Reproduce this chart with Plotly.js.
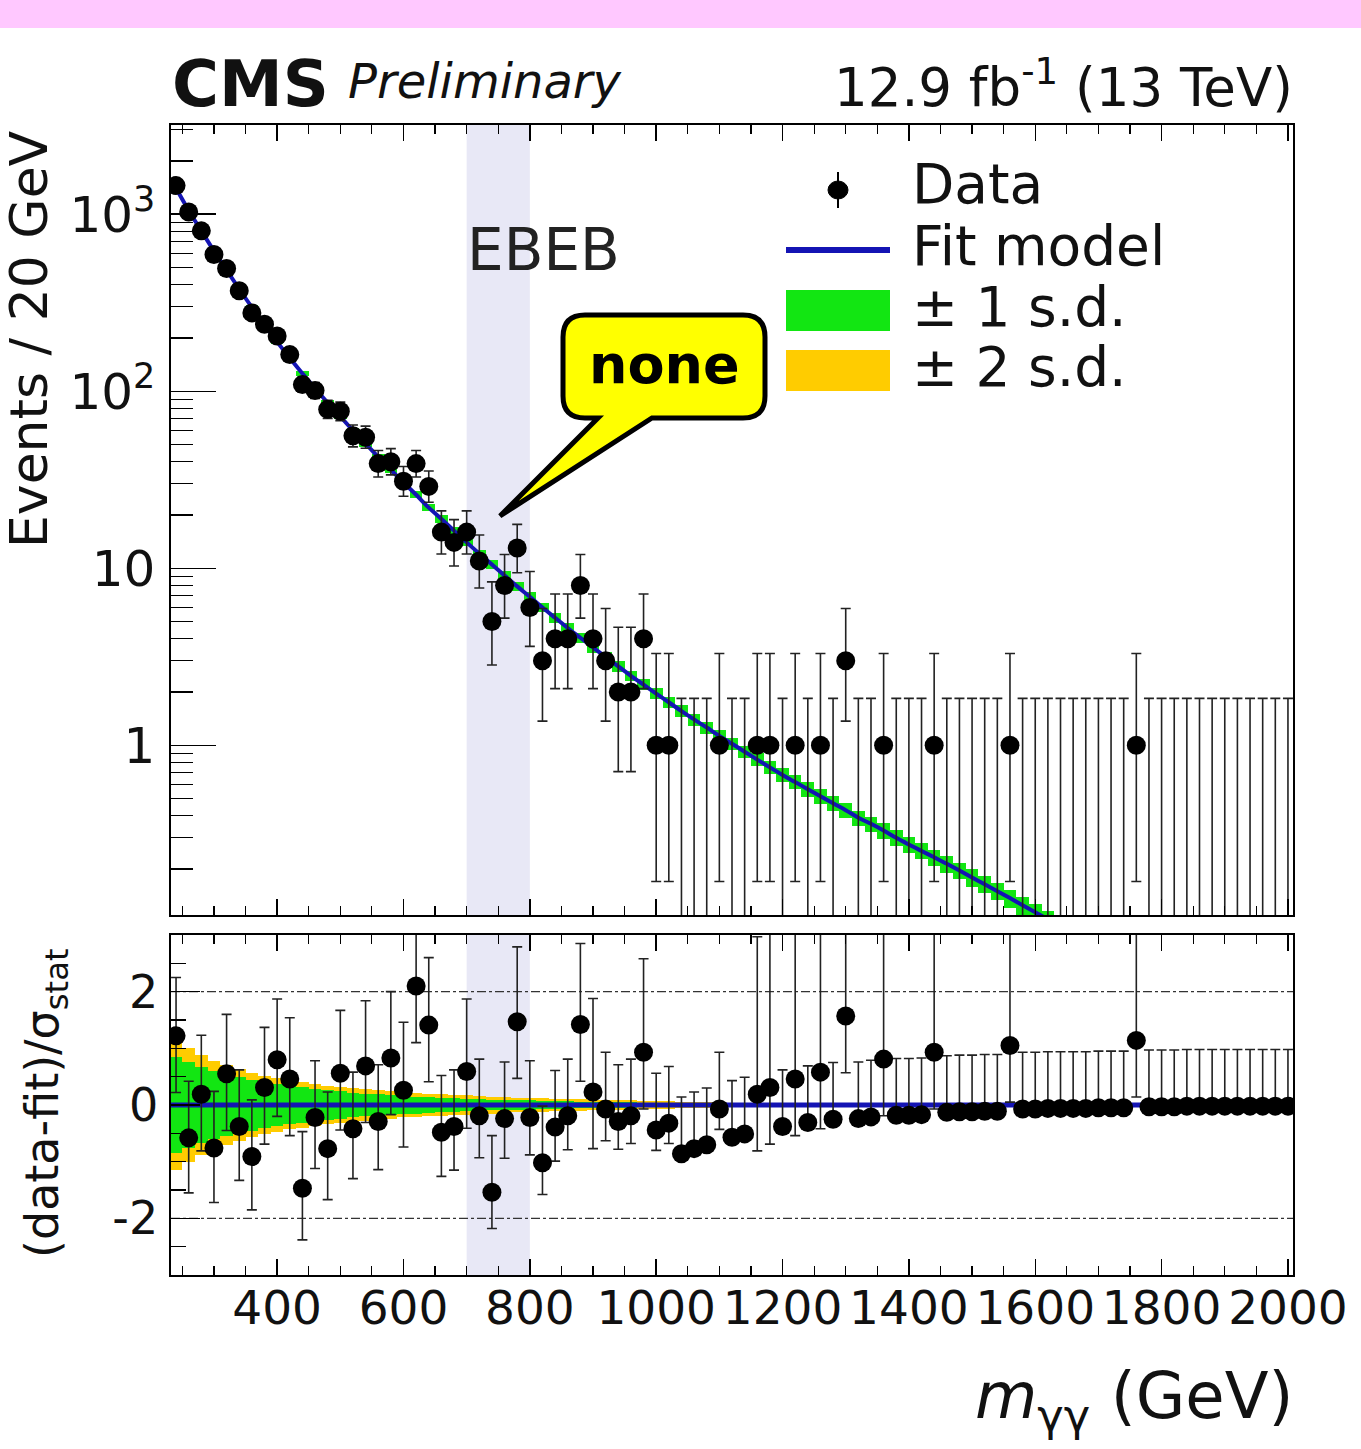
<!DOCTYPE html>
<html>
<head>
<meta charset="utf-8">
<script src="https://cdn.plot.ly/plotly-3.0.1.min.js"></script>
<style>body{margin:0;background:#fff;}#chart{width:1361px;height:1449px;}</style>
</head>
<body>
<div id="chart"></div>
<script>
// ---------- data ----------
const binCenters = [240,260,280,300,320,340,360,380,400,420,440,460,480,500,520,540,560,580,600,620,
  640,660,680,700,720,740,760,780,800,820,840,860,880,900,920,940,960,980,1000,1020,
  1040,1060,1080,1100,1120,1140,1160,1180,1200,1220,1240,1260,1280,1300,1320,1340,1360,1380,1400,1420,
  1440,1460,1480,1500,1520,1540,1560,1580,1600,1620,1640,1660,1680,1700,1720,1740,1760,1780,1800,1820,
  1840,1860,1880,1900,1920,1940,1960,1980,2000];
const binWidth = 20;

const events = [1450,1030,805,592,493,369,277,239,205,161,
  109,101,79,77,56,55,39,40,31,39,
  29,16,14,16,11,5,8,13,6,3,
  4,4,8,4,3,2,2,4,1,1,
  0,0,0,1,0,0,1,1,0,1,
  0,1,0,3,0,0,1,0,0,0,
  1,0,0,0,0,0,1,0,0,0,
  0,0,0,0,0,0,1,0,0,0,
  0,0,0,0,0,0,0,0,0];

const errLow = [38.1,32.1,28.4,24.3,22.2,19.2,16.6,15.5,14.3,12.7,
  10.4,10.0,8.9,8.8,7.5,7.4,6.2,6.3,5.5,6.2,
  5.4,3.96,3.70,3.96,3.27,2.16,2.77,3.56,2.38,1.63,
  1.91,1.91,2.77,1.91,1.63,1.29,1.29,1.91,0.83,0.83,
  0,0,0,0.83,0,0,0.83,0.83,0,0.83,
  0,0.83,0,1.63,0,0,0.83,0,0,0,
  0.83,0,0,0,0,0,0.83,0,0,0,
  0,0,0,0,0,0,0.83,0,0,0,
  0,0,0,0,0,0,0,0,0];
const errHigh = [39.1,33.1,29.4,25.3,23.2,20.2,17.7,16.5,15.3,13.7,
  11.5,11.1,9.9,9.8,8.5,8.5,7.3,7.4,6.6,7.3,
  6.4,5.08,4.83,5.08,4.41,3.38,3.95,4.70,3.58,2.92,
  3.16,3.16,3.95,3.16,2.92,2.64,2.64,3.16,2.30,2.30,
  1.84,1.84,1.84,2.30,1.84,1.84,2.30,2.30,1.84,2.30,
  1.84,2.30,1.84,2.92,1.84,1.84,2.30,1.84,1.84,1.84,
  2.30,1.84,1.84,1.84,1.84,1.84,2.30,1.84,1.84,1.84,
  1.84,1.84,1.84,1.84,1.84,1.84,2.30,1.84,1.84,1.84,
  1.84,1.84,1.84,1.84,1.84,1.84,1.84,1.84,1.84];

// fit model value at each bin centre (down to where it leaves the axis)
const fitModel = [1400,1050,805,620,483,378,298,237,190,154,
  126,104,86,72,60,50.5,42.5,36,30.5,26,
  22,19,16.3,14,12.1,10.5,9.1,7.9,6.9,6.0,
  5.25,4.6,4.05,3.57,3.15,2.79,2.47,2.2,1.96,1.75,
  1.56,1.40,1.26,1.13,1.02,0.92,0.83,0.75,0.68,0.62,
  0.565,0.515,0.47,0.43,0.39,0.36,0.33,0.30,0.275,0.253,
  0.233,0.214,0.196,0.179,0.164,0.150,0.137,0.125,0.114,0.104,0.095];

// relative +-1 s.d. fit uncertainty (top panel band)
const fitRelUnc = [0.024,0.024,0.025,0.025,0.026,0.027,0.028,0.029,0.03,0.031,
  0.032,0.033,0.035,0.036,0.037,0.039,0.04,0.042,0.043,0.045,
  0.046,0.048,0.049,0.051,0.052,0.054,0.055,0.057,0.058,0.06,
  0.061,0.063,0.064,0.066,0.067,0.069,0.07,0.072,0.073,0.075,
  0.076,0.078,0.079,0.081,0.082,0.084,0.085,0.087,0.088,0.09,
  0.091,0.093,0.094,0.096,0.097,0.099,0.1,0.102,0.103,0.105,
  0.106,0.108,0.109,0.111,0.112,0.114,0.115,0.117,0.118,0.12,0.121];

// pull panel
const pulls = [1.22,-0.58,0.19,-0.76,0.55,-0.38,-0.91,0.31,0.80,0.46,
  -1.47,-0.22,-0.77,0.56,-0.42,0.69,-0.29,0.83,0.26,2.10,
  1.41,-0.48,-0.38,0.59,-0.19,-1.54,-0.24,1.47,-0.22,-1.02,
  -0.39,-0.19,1.42,0.23,-0.07,-0.29,-0.19,0.93,-0.44,-0.32,
  -0.86,-0.77,-0.70,-0.07,-0.57,-0.51,0.19,0.31,-0.38,0.46,
  -0.31,0.58,-0.25,1.57,-0.24,-0.21,0.81,-0.18,-0.18,-0.17,
  0.93,-0.13,-0.12,-0.12,-0.11,-0.11,1.05,-0.07,-0.07,-0.06,
  -0.06,-0.06,-0.06,-0.05,-0.05,-0.05,1.14,-0.03,-0.03,-0.03,
  -0.02,-0.02,-0.02,-0.02,-0.02,-0.02,-0.02,-0.02,-0.02];
const pullErrHigh = [1.03,1,1.04,1,1.05,1,1,1.06,1.07,1.08,
  1,1,1,1.11,1,1.15,1,1.17,1.20,1.18,
  1.19,1,1,1.28,1,1,1,1.32,1,1,
  1,1,1.43,1.65,1,1,1,1.65,1,1,
  1,1,1,1,1,1,2.78,2.78,1,2.78,
  1,2.78,1,1.79,1,1,2.78,1,1,1,
  2.78,1,1,1,1,1,2.78,1,1,1,
  1,1,1,1,1,1,2.78,1,1,1,
  1,1,1,1,1,1,1,1,1];
const pullErrLow = [1,0.97,1,0.96,1,0.95,0.94,1,1,1,
  0.91,0.90,0.90,1,0.88,1,0.85,1,1,1,
  1,0.78,0.77,1,0.74,0.64,0.70,1,0.66,0.56,
  0.60,0.60,1,1,0.56,0.49,0.49,1,0.36,0.36,
  0,0,0,0.36,0,0,1,1,0,1,
  0,1,0,1,0,0,1,0,0,0,
  1,0,0,0,0,0,1,0,0,0,
  0,0,0,0,0,0,1,0,0,0,
  0,0,0,0,0,0,0,0,0];

// fit-uncertainty bands in the pull panel (half widths, pull units)
const pullBand1 = [0.85,0.76,0.67,0.60,0.54,0.49,0.45,0.41,0.37,0.34,
  0.31,0.28,0.26,0.24,0.22,0.20,0.19,0.17,0.16,0.15,
  0.14,0.13,0.12,0.11,0.10,0.095,0.09,0.085,0.08,0.075,
  0.07,0.065,0.06,0.055,0.05,0.05,0.045,0.04,0.04,0.035,
  0.03,0.03,0.03,0.025,0.025];
const pullBand2 = [1.15,1.0,0.88,0.78,0.70,0.63,0.57,0.52,0.47,0.43,
  0.40,0.37,0.34,0.32,0.30,0.28,0.26,0.24,0.22,0.21,
  0.20,0.19,0.18,0.17,0.16,0.15,0.14,0.13,0.12,0.115,
  0.11,0.105,0.10,0.095,0.09,0.085,0.08,0.075,0.07,0.065,
  0.06,0.055,0.05,0.045,0.04];

const yTickVals = [1,10,100,1000];
const yTickText = ['1','10','10<sup>2</sup>','10<sup>3</sup>'];
const pullTickVals = [-2,0,2];
const pullTickText = ['-2','0','2'];

// ---------- derived trace arrays ----------
const nzX=[],nzY=[],nzLo=[],nzHi=[],zX=[],zY=[],zLo=[];
events.forEach((n,i)=>{
  if(n>0){nzX.push(binCenters[i]);nzY.push(n);nzLo.push(errLow[i]);nzHi.push(errHigh[i]);}
  else{zX.push(binCenters[i]);zY.push(n+errHigh[i]);zLo.push(n+errHigh[i]);}
});
const fitX = binCenters.slice(0,fitModel.length);
const bandBase = fitModel.map((f,i)=>f*(1-fitRelUnc[i]));
const bandSize = fitModel.map((f,i)=>2*f*fitRelUnc[i]);
const pbX = binCenters.slice(0,pullBand1.length);

const GREEN='#12e612', YELLOW='#ffcc00', BLUE='#1414b4', FONT='DejaVu Sans';

const traces = [
  {type:'bar',xaxis:'x2',yaxis:'y',x:fitX,base:bandBase,y:bandSize,width:binWidth,
   marker:{color:GREEN,line:{width:0}},hoverinfo:'skip',showlegend:false},
  {type:'scatter',mode:'lines',xaxis:'x2',yaxis:'y',x:fitX,y:fitModel,
   line:{color:BLUE,width:4,shape:'spline'},showlegend:false},
  {type:'scatter',mode:'markers',xaxis:'x2',yaxis:'y',x:zX,y:zY,
   marker:{size:1,opacity:0},
   error_y:{type:'data',symmetric:false,array:zX.map(()=>0),arrayminus:zLo,color:'#222',thickness:1.6,width:5},showlegend:false},
  {type:'scatter',mode:'markers',xaxis:'x2',yaxis:'y',x:nzX,y:nzY,
   marker:{size:19,color:'#000'},
   error_y:{type:'data',symmetric:false,array:nzHi,arrayminus:nzLo,color:'#222',thickness:1.6,width:5},showlegend:false},
  {type:'bar',xaxis:'x',yaxis:'y2',x:pbX,base:pullBand2.map(v=>-v),y:pullBand2.map(v=>2*v),width:binWidth,
   marker:{color:YELLOW,line:{width:0}},hoverinfo:'skip',showlegend:false},
  {type:'bar',xaxis:'x',yaxis:'y2',x:pbX,base:pullBand1.map(v=>-v),y:pullBand1.map(v=>2*v),width:binWidth,
   marker:{color:GREEN,line:{width:0}},hoverinfo:'skip',showlegend:false},
  {type:'scatter',mode:'lines',xaxis:'x',yaxis:'y2',
   x:[binCenters[0]-binWidth/2,binCenters[binCenters.length-1]+binWidth/2],y:[0,0],
   line:{color:BLUE,width:5},showlegend:false},
  {type:'scatter',mode:'markers',xaxis:'x',yaxis:'y2',x:binCenters,y:pulls,
   marker:{size:19,color:'#000'},
   error_y:{type:'data',symmetric:false,array:pullErrHigh,arrayminus:pullErrLow,color:'#222',thickness:1.6,width:5},showlegend:false}
];

// ---------- layout ----------
const L=171,R=1293,T=125,B=1275;
const X = px => (px-L)/(R-L);
const Y = py => (B-py)/(B-T);

const minorLog=[];
[0.2,0.3,0.4,0.5,0.6,0.7,0.8,0.9].forEach(v=>{minorLog.push(v,v*10,v*100,v*1000);});
minorLog.push(2000,3000);

const xCommon = {range:[232,2008],tickmode:'linear',tick0:0,dtick:200,ticks:'inside',ticklen:16,tickwidth:1.4,tickcolor:'#000',
  minor:{ticks:'inside',dtick:50,tick0:0,ticklen:9,tickwidth:1.2,tickcolor:'#000',showgrid:false},
  showline:true,linecolor:'#000',linewidth:1.6,mirror:'allticks',showgrid:false,zeroline:false};

function pathFromPx(cmds){
  return cmds.map(c=>{
    if(c[0]==='Z') return 'Z';
    const nums=c.slice(1);const out=[];
    for(let k=0;k<nums.length;k+=2){out.push(X(nums[k]).toFixed(5)+','+Y(nums[k+1]).toFixed(5));}
    return c[0]+out.join(' ');
  }).join(' ');
}
const calloutPath = pathFromPx([
  ['M',585,315],['L',743,315],['Q',765,315,765,337],['L',765,396],['Q',765,418,743,418],
  ['L',652,418],['L',500,516],['L',598,418],['L',585,418],['Q',563,418,563,396],['L',563,337],['Q',563,315,585,315],['Z']
]);

const shapes = [
  {type:'rect',xref:'paper',yref:'paper',x0:X(0),x1:X(1361),y0:Y(28),y1:Y(0),fillcolor:'#ffc8ff',line:{width:0},layer:'below'},
  {type:'rect',xref:'x',yref:'y domain',x0:700,x1:800,y0:0,y1:1,fillcolor:'#e8e8f6',line:{width:0},layer:'below'},
  {type:'rect',xref:'x',yref:'y2 domain',x0:700,x1:800,y0:0,y1:1,fillcolor:'#e8e8f6',line:{width:0},layer:'below'},
  {type:'line',xref:'paper',yref:'y2',x0:0,x1:1,y0:2,y1:2,line:{color:'#333',width:1.3,dash:'dashdot'},layer:'below'},
  {type:'line',xref:'paper',yref:'y2',x0:0,x1:1,y0:-2,y1:-2,line:{color:'#333',width:1.3,dash:'dashdot'},layer:'below'},
  // legend symbols
  {type:'line',xref:'paper',yref:'paper',x0:X(838),x1:X(838),y0:Y(172),y1:Y(208),line:{color:'#000',width:2}},
  {type:'circle',xref:'paper',yref:'paper',x0:X(828),x1:X(848),y0:Y(199),y1:Y(181),fillcolor:'#000',line:{color:'#000',width:1}},
  {type:'line',xref:'paper',yref:'paper',x0:X(786),x1:X(890),y0:Y(250),y1:Y(250),line:{color:BLUE,width:6}},
  {type:'rect',xref:'paper',yref:'paper',x0:X(786),x1:X(890),y0:Y(331),y1:Y(290),fillcolor:GREEN,line:{width:0}},
  {type:'rect',xref:'paper',yref:'paper',x0:X(786),x1:X(890),y0:Y(391),y1:Y(350),fillcolor:YELLOW,line:{width:0}},
  // callout
  {type:'path',xref:'paper',yref:'paper',path:calloutPath,fillcolor:'#ffff00',line:{color:'#000',width:5}}
];

const ann = (o)=>Object.assign({xref:'paper',yref:'paper',showarrow:false,font:{family:FONT,size:55,color:'#111'}},o);
const annotations = [
  ann({text:'<b>CMS</b>',x:X(170),y:Y(84),xanchor:'left',yanchor:'middle',font:{family:FONT,size:64,color:'#111'}}),
  ann({text:'<i>Preliminary</i>',x:X(346),y:Y(81),xanchor:'left',yanchor:'middle',font:{family:FONT,size:48,color:'#111'}}),
  ann({text:'12.9 fb<sup>-1</sup> (13 TeV)',x:X(1295),y:Y(84),xanchor:'right',yanchor:'middle',font:{family:FONT,size:53,color:'#111'}}),
  ann({text:'EBEB',x:X(543),y:Y(250),xanchor:'center',yanchor:'middle',font:{family:FONT,size:58,color:'#222'}}),
  ann({text:'Data',x:X(910),y:Y(184),xanchor:'left',yanchor:'middle'}),
  ann({text:'Fit model',x:X(910),y:Y(246),xanchor:'left',yanchor:'middle'}),
  ann({text:'± 1 s.d.',x:X(910),y:Y(307),xanchor:'left',yanchor:'middle'}),
  ann({text:'± 2 s.d.',x:X(910),y:Y(367),xanchor:'left',yanchor:'middle'}),
  ann({text:'<b>none</b>',x:X(664),y:Y(364),xanchor:'center',yanchor:'middle',font:{family:FONT,size:54,color:'#000'}}),
  ann({text:'Events / 20 GeV',textangle:-90,x:X(29),y:Y(128),xanchor:'center',yanchor:'top',font:{family:FONT,size:52,color:'#111'}}),
  ann({text:'(data-fit)/σ<sub>stat</sub>',textangle:-90,x:X(45),y:Y(946),xanchor:'center',yanchor:'top',font:{family:FONT,size:46,color:'#111'}}),
  ann({text:'<i>m</i><sub>γγ</sub> (GeV)',x:X(1295),y:Y(1400),xanchor:'right',yanchor:'middle',font:{family:FONT,size:64,color:'#111'}})
];

const layout = {
  width:1361,height:1449,
  margin:{l:L,r:1361-R,t:T,b:1449-B,pad:0},
  paper_bgcolor:'#fff',plot_bgcolor:'rgba(0,0,0,0)',
  barmode:'overlay',bargap:0,showlegend:false,
  font:{family:FONT,color:'#111'},
  xaxis:Object.assign({},xCommon,{domain:[0,1],anchor:'y2',showticklabels:true,
    tickfont:{family:FONT,size:47,color:'#111'},ticklabelstandoff:-9}),
  xaxis2:Object.assign({},xCommon,{domain:[0,1],anchor:'y',showticklabels:false}),
  yaxis:{domain:[Y(915),1],anchor:'x2',type:'log',range:[Math.log10(0.11),Math.log10(3190)],
    tickmode:'array',tickvals:yTickVals,ticktext:yTickText,ticks:'inside',ticklen:45,tickwidth:1.4,tickcolor:'#000',
    minor:{ticks:'inside',tickmode:'array',tickvals:minorLog,ticklen:22,tickwidth:1.2,tickcolor:'#000',showgrid:false},
    tickfont:{family:FONT,size:50,color:'#111'},ticklabelstandoff:4,
    showline:true,linecolor:'#000',linewidth:1.6,mirror:true,showgrid:false,zeroline:false},
  yaxis2:{domain:[0,Y(935)],anchor:'x',range:[-3,3],
    tickmode:'array',tickvals:pullTickVals,ticktext:pullTickText,ticks:'inside',ticklen:29,tickwidth:1.4,tickcolor:'#000',
    minor:{ticks:'inside',tickmode:'array',tickvals:[-2.5,-1.5,-1,-0.5,0.5,1,1.5,2.5],ticklen:15,tickwidth:1.2,tickcolor:'#000',showgrid:false},
    tickfont:{family:FONT,size:46,color:'#111'},ticklabelstandoff:2,
    showline:true,linecolor:'#000',linewidth:1.6,mirror:true,showgrid:false,zeroline:false},
  shapes:shapes,annotations:annotations
};

Plotly.newPlot('chart',traces,layout,{staticPlot:true,displayModeBar:false});
</script>
</body>
</html>
